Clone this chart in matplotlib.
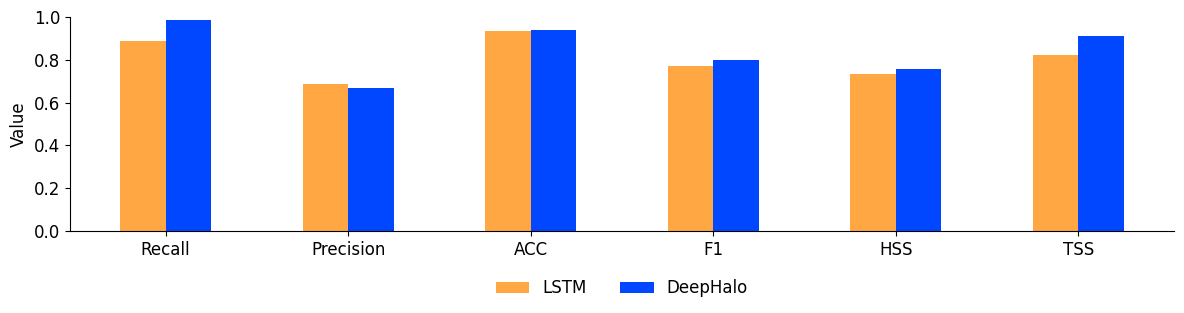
import numpy as np
import matplotlib
matplotlib.use('Agg')
import matplotlib.pyplot as plt

metrics = ['Recall', 'Precision', 'ACC', 'F1', 'HSS', 'TSS']
lstm = [0.888, 0.687, 0.935, 0.771, 0.734, 0.822]
deephalo = [0.986, 0.668, 0.939, 0.799, 0.757, 0.911]

fig, ax = plt.subplots(figsize=(11.84, 3.13), dpi=100)
fig.subplots_adjust(left=0.059, right=0.9916, top=0.946, bottom=0.262)

x = np.arange(len(metrics))
w = 0.25
ax.bar(x - w / 2, lstm, w, color='#FFA843', label='LSTM')
ax.bar(x + w / 2, deephalo, w, color='#0047FF', label='DeepHalo')

ax.set_ylim(0, 1.0)
ax.set_xticks(x)
ax.set_xticklabels(metrics, fontsize=12)
ax.tick_params(axis='y', labelsize=12)
ax.set_ylabel('Value', fontsize=12)
ax.spines['top'].set_visible(False)
ax.spines['right'].set_visible(False)
ax.legend(loc='upper center', bbox_to_anchor=(0.5, -0.155), ncol=2,
          frameon=False, fontsize=12, columnspacing=2.0)

plt.savefig('out.png', dpi=100)
